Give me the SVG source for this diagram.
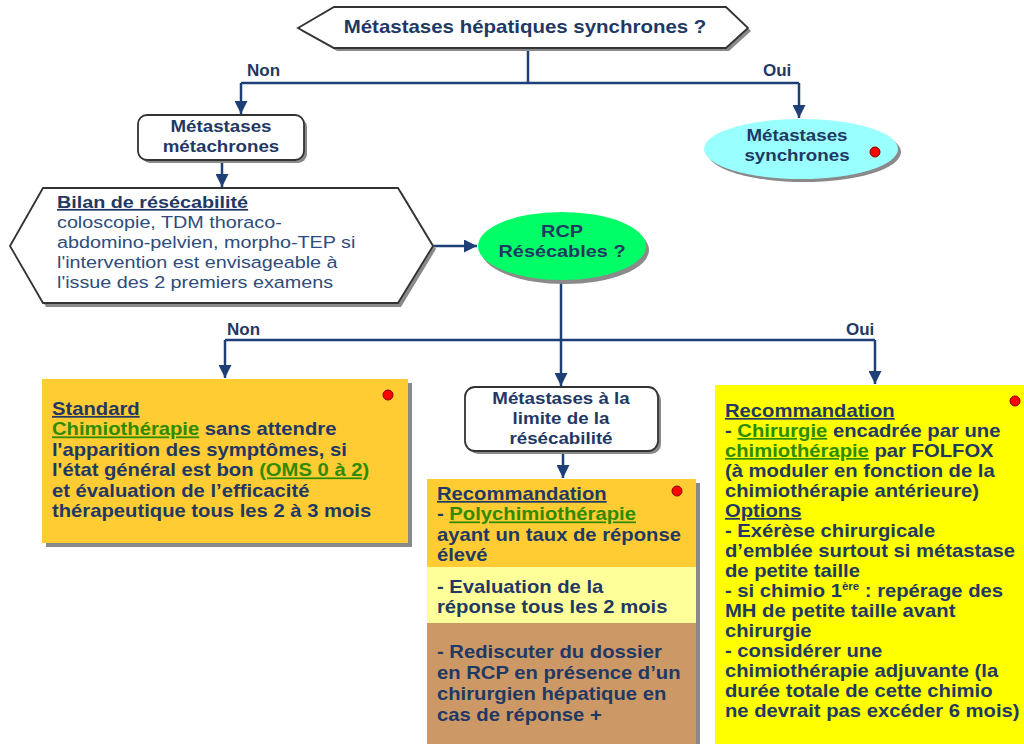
<svg xmlns="http://www.w3.org/2000/svg" width="1024" height="744" viewBox="0 0 1024 744">
<defs>
<style>
.t{font-family:"Liberation Sans",Arial,sans-serif;fill:#1F3864}
.b{font-weight:bold}
.r{fill:#2E4C7C}
.g{fill:#2E8B00;text-decoration:underline}
.u{text-decoration:underline}
.c{text-anchor:middle}
.sh{fill:#8A8A8A}
.wb{fill:#FFFFFF;stroke:#333333;stroke-width:1.8}
.ln{fill:none;stroke:#1F3F77;stroke-width:2.5}
.dot{fill:#FF0000;stroke:#880000;stroke-width:1}
</style>
<marker id="ah" viewBox="0 0 10 10" refX="10" refY="5" markerWidth="13" markerHeight="13" markerUnits="userSpaceOnUse" orient="auto">
<path d="M0,0 L10,5 L0,10 z" fill="#1F3F77"/>
</marker>
</defs>
<rect width="1024" height="744" fill="#FFFFFF"/>

<g id="connectors">
<polyline class="ln" points="528,48 528,83"/>
<polyline class="ln" points="241,83 799,83"/>
<polyline class="ln" points="241,83 241,114" marker-end="url(#ah)"/>
<polyline class="ln" points="799,83 799,118" marker-end="url(#ah)"/>
<polyline class="ln" points="222,160 222,187" marker-end="url(#ah)"/>
<polyline class="ln" points="433,246 477,246" marker-end="url(#ah)"/>
<polyline class="ln" points="561,281 561,340"/>
<polyline class="ln" points="225,340 875,340"/>
<polyline class="ln" points="225,340 225,378" marker-end="url(#ah)"/>
<polyline class="ln" points="561,340 561,386" marker-end="url(#ah)"/>
<polyline class="ln" points="875,340 875,384" marker-end="url(#ah)"/>
<polyline class="ln" points="563,451 563,478" marker-end="url(#ah)"/>
<g class="t b" font-size="17">
<text x="247" y="76">Non</text>
<text x="763" y="76">Oui</text>
<text x="227" y="335">Non</text>
<text x="846" y="335">Oui</text>
</g>
</g>

<g id="title">
<polygon class="sh" points="301,31 337,10 729,10 751,31 729,51 337,51"/>
<polygon class="wb" points="298,28 334,7 726,7 748,28 726,48 334,48"/>
<g transform="translate(525,0) scale(1.15,1)"><text class="t b c" x="0" y="33" font-size="17.8">Métastases hépatiques synchrones ?</text></g>
</g>

<g id="metachrones">
<rect class="sh" x="141" y="118" width="166" height="45" rx="9"/>
<rect class="wb" x="138" y="115" width="166" height="45" rx="9"/>
<g transform="translate(221,0) scale(1.15,1)" class="t b c" font-size="16.3">
<text x="0" y="132">Métastases</text>
<text x="0" y="152">métachrones</text>
</g>
</g>

<g id="synchrones">
<ellipse class="sh" cx="804" cy="152" rx="97" ry="30"/>
<ellipse cx="801" cy="149" rx="97" ry="30" fill="#99FFFF"/>
<g transform="translate(797,0) scale(1.15,1)" class="t b c" font-size="16.3">
<text x="0" y="141">Métastases</text>
<text x="0" y="161">synchrones</text>
</g>
<circle class="dot" cx="875" cy="152" r="5"/>
</g>

<g id="bilan">
<polygon class="sh" points="13,249 46,191 401,191 436,249 401,307 46,307"/>
<polygon class="wb" points="10,246 43,188 398,188 433,246 398,303 43,303"/>
<g transform="translate(57,0) scale(1.15,1)" class="t" font-size="17.2">
<text x="0" y="208" class="b u">Bilan de résécabilité</text>
<text x="0" y="228" class="r">coloscopie, TDM thoraco-</text>
<text x="0" y="248" class="r">abdomino-pelvien, morpho-TEP si</text>
<text x="0" y="268" class="r">l'intervention est envisageable à</text>
<text x="0" y="288" class="r">l'issue des 2 premiers examens</text>
</g>
</g>

<g id="rcp">
<ellipse class="sh" cx="565" cy="250" rx="84" ry="34"/>
<ellipse cx="562" cy="246" rx="84" ry="34" fill="#00FF66"/>
<g transform="translate(562,0) scale(1.15,1)" class="t b c" font-size="17.3">
<text x="0" y="237">RCP</text>
<text x="0" y="257">Résécables ?</text>
</g>
</g>

<g id="standard">
<rect class="sh" x="46" y="383" width="366" height="164"/>
<rect x="42" y="379" width="366" height="164" fill="#FFCC33"/>
<circle class="dot" cx="388" cy="395" r="5"/>
<g transform="translate(52,0) scale(1.15,1)" class="t b" font-size="17.6">
<text x="0" y="415" class="u">Standard</text>
<text x="0" y="435.5"><tspan class="g">Chimiothérapie</tspan> sans attendre</text>
<text x="0" y="456">l'apparition des symptômes, si</text>
<text x="0" y="476.5">l'état général est bon <tspan class="g">(OMS 0 à 2)</tspan></text>
<text x="0" y="497">et évaluation de l’efficacité</text>
<text x="0" y="517.5">thérapeutique tous les 2 à 3 mois</text>
</g>
</g>

<g id="limite">
<rect class="sh" x="468" y="390" width="193" height="64" rx="10"/>
<rect class="wb" x="465" y="387" width="193" height="64" rx="10"/>
<g transform="translate(561,0) scale(1.15,1)" class="t b c" font-size="16.3">
<text x="0" y="404">Métastases à la</text>
<text x="0" y="424">limite de la</text>
<text x="0" y="444">résécabilité</text>
</g>
</g>

<g id="recommandation-limite">
<rect class="sh" x="431" y="483" width="269" height="270"/>
<rect x="427" y="479" width="269" height="88" fill="#FFCC33"/>
<rect x="427" y="567" width="269" height="56" fill="#FFFF99"/>
<rect x="427" y="623" width="269" height="130" fill="#CC9966"/>
<circle class="dot" cx="677" cy="491" r="5"/>
<g transform="translate(437,0) scale(1.15,1)" class="t b" font-size="17.6">
<text x="0" y="500" class="u">Recommandation</text>
<text x="0" y="520.5">- <tspan class="g">Polychimiothérapie</tspan></text>
<text x="0" y="541">ayant un taux de réponse</text>
<text x="0" y="561.5">élevé</text>
<text x="0" y="593">- Evaluation de la</text>
<text x="0" y="613">réponse tous les 2 mois</text>
<text x="0" y="658">- Rediscuter du dossier</text>
<text x="0" y="679">en RCP en présence d’un</text>
<text x="0" y="700">chirurgien hépatique en</text>
<text x="0" y="721">cas de réponse +</text>
</g>
</g>

<g id="recommandation-resecables">
<rect x="715" y="385" width="320" height="370" fill="#FFFF00"/>
<circle class="dot" cx="1015" cy="401" r="5"/>
<g transform="translate(725,0) scale(1.15,1)" class="t b" font-size="17.6">
<text x="0" y="417" class="u">Recommandation</text>
<text x="0" y="437">- <tspan class="g">Chirurgie</tspan> encadrée par une</text>
<text x="0" y="457"><tspan class="g">chimiothérapie</tspan> par FOLFOX</text>
<text x="0" y="477">(à moduler en fonction de la</text>
<text x="0" y="497">chimiothérapie antérieure)</text>
<text x="0" y="517" class="u">Options</text>
<text x="0" y="537">- Exérèse chirurgicale</text>
<text x="0" y="557">d’emblée surtout si métastase</text>
<text x="0" y="577">de petite taille</text>
<text x="0" y="597">- si chimio 1<tspan dy="-7" font-size="10">ère</tspan><tspan dy="7"> : repérage des</tspan></text>
<text x="0" y="617">MH de petite taille avant</text>
<text x="0" y="637">chirurgie</text>
<text x="0" y="657">- considérer une</text>
<text x="0" y="677">chimiothérapie adjuvante (la</text>
<text x="0" y="697">durée totale de cette chimio</text>
<text x="0" y="717">ne devrait pas excéder 6 mois)</text>
</g>
</g>
</svg>
